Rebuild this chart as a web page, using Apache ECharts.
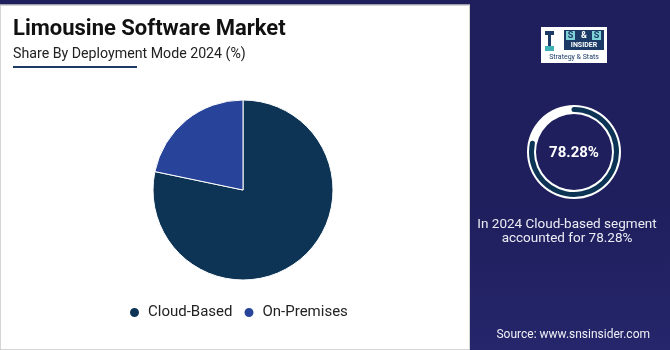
<!DOCTYPE html>
<html>
<head>
<meta charset="utf-8">
<script src="https://cdn.jsdelivr.net/npm/echarts@6/dist/echarts.min.js"></script>
<style>
html,body{margin:0;padding:0;background:#1f1f5e;}
#c{width:670px;height:350px;}
</style>
</head>
<body>
<div id="c"></div>
<script>
const titleText = "Limousine Software Market";
const subtitleText = "Share By Deployment Mode 2024 (%)";
const categories = ["Cloud-Based", "On-Premises"];
const shares = [78.28, 21.72];
const colors = ["#0d3455", "#27439a"];
const highlightValue = 78.28;
const caption = ["In 2024 Cloud-based segment", "accounted for 78.28%"];
const sourceText = "Source: www.snsinsider.com";

const chart = echarts.init(document.getElementById('c'), null, {renderer: 'canvas'});
const FONT = 'Roboto, "Noto Sans", sans-serif';

const option = {
  backgroundColor: '#1f1f5e',
  animation: false,
  title: [
    {text: titleText, left: 13, top: 18, padding: 0, textStyle: {fontFamily: FONT, fontSize: 22, fontWeight: 'bold', color: '#111111'}},
    {text: subtitleText, left: 13, top: 47, padding: 0, textStyle: {fontFamily: FONT, fontSize: 14.2, fontWeight: 'normal', color: '#222222'}}
  ],
  legend: {
    data: categories,
    left: 123, top: 300,
    icon: 'circle', itemWidth: 11, itemHeight: 11, itemGap: 10,
    textStyle: {fontFamily: FONT, fontSize: 15, color: '#222222', padding: [0,0,0,3]}
  },
  graphic: [
    {type: 'rect', z: -10, shape: {x: 0, y: 5, width: 470, height: 345}, style: {fill: '#ffffff', stroke: '#c8c8c8', lineWidth: 1.5}},
    {type: 'rect', z: -9, shape: {x: 470, y: 0, width: 200, height: 350}, style: {fill: new echarts.graphic.LinearGradient(0,0,0,1,[{offset:0,color:'#1f1f5e'},{offset:0.6,color:'#1f1f5e'},{offset:1,color:'#25266b'}])}},
    {type: 'rect', shape: {x: 13, y: 66, width: 124, height: 2}, style: {fill: '#1b3a66'}},
    // logo
    {type: 'group', left: 541, top: 27, children: [
      {type: 'rect', shape: {x: 0, y: 0, width: 66, height: 36}, style: {fill: '#ffffff'}},
      {type: 'rect', shape: {x: 7, y: 6, width: 3, height: 17}, style: {fill: '#1b3a66'}},
      {type: 'rect', shape: {x: 4, y: 4, width: 9, height: 4}, style: {fill: '#1b3a66'}},
      {type: 'rect', shape: {x: 4, y: 19, width: 9, height: 5}, style: {fill: '#3fb0b5'}},
      {type: 'rect', shape: {x: 23, y: 3, width: 40, height: 20}, style: {fill: '#1b3a66'}},
      {type: 'rect', shape: {x: 25, y: 4, width: 9, height: 9}, style: {fill: '#7fd3d6'}},
      {type: 'rect', shape: {x: 51, y: 4, width: 9, height: 9}, style: {fill: '#7fd3d6'}},
      {type: 'text', style: {x: 29.5, y: 8.5, text: 'S', fill: '#1b3a66', font: 'bold 9px ' + FONT, align: 'center', verticalAlign: 'middle'}},
      {type: 'text', style: {x: 43, y: 8.5, text: '&', fill: '#ffffff', font: 'bold 9px ' + FONT, align: 'center', verticalAlign: 'middle'}},
      {type: 'text', style: {x: 55.5, y: 8.5, text: 'S', fill: '#1b3a66', font: 'bold 9px ' + FONT, align: 'center', verticalAlign: 'middle'}},
      {type: 'text', style: {x: 43, y: 18, text: 'INSIDER', fill: '#ffffff', font: 'bold 7px ' + FONT, align: 'center', verticalAlign: 'middle'}},
      {type: 'text', style: {x: 33, y: 30, text: 'Strategy & Stats', fill: '#1b3a66', font: '7px ' + FONT, align: 'center', verticalAlign: 'middle'}}
    ]},
    {type: 'text', style: {x: 574, y: 153, text: highlightValue.toFixed(2) + '%', fill: '#ffffff', font: 'bold 15px ' + FONT, align: 'center', verticalAlign: 'middle'}},
    {type: 'text', style: {x: 567, y: 225, text: caption[0], fill: '#ececf4', font: '13.5px ' + FONT, align: 'center', verticalAlign: 'middle'}},
    {type: 'text', style: {x: 567, y: 239, text: caption[1], fill: '#ececf4', font: '13.5px ' + FONT, align: 'center', verticalAlign: 'middle'}},
    {type: 'text', style: {x: 650, y: 335, text: sourceText, fill: '#f0f0f6', font: '12px ' + FONT, align: 'right', verticalAlign: 'middle'}}
  ],
  series: [
    {
      type: 'pie',
      center: [243, 190], radius: [0, 90],
      startAngle: 90, clockwise: true,
      label: {show: false}, labelLine: {show: false},
      itemStyle: {borderColor: '#ffffff', borderWidth: 1},
      data: categories.map((c, i) => ({name: c, value: shares[i], itemStyle: {color: colors[i]}}))
    },
    {
      type: 'gauge',
      center: [574, 152], radius: 47,
      startAngle: 90, endAngle: -270, min: 0, max: 100,
      axisLine: {lineStyle: {width: 9, color: [[1, '#ffffff']]}},
      progress: {show: false}, pointer: {show: false}, axisTick: {show: false},
      splitLine: {show: false}, axisLabel: {show: false}, detail: {show: false}, title: {show: false},
      data: [{value: 0}]
    },
    {
      type: 'gauge',
      center: [574, 152], radius: 45,
      startAngle: 90, endAngle: -270, min: 0, max: 100,
      axisLine: {lineStyle: {width: 5, color: [[1, 'rgba(0,0,0,0)']]}},
      progress: {show: true, width: 5, roundCap: true, itemStyle: {color: '#0d3455'}},
      pointer: {show: false}, axisTick: {show: false},
      splitLine: {show: false}, axisLabel: {show: false}, detail: {show: false}, title: {show: false},
      data: [{value: highlightValue}]
    }
  ]
};
chart.setOption(option);
</script>
</body>
</html>
